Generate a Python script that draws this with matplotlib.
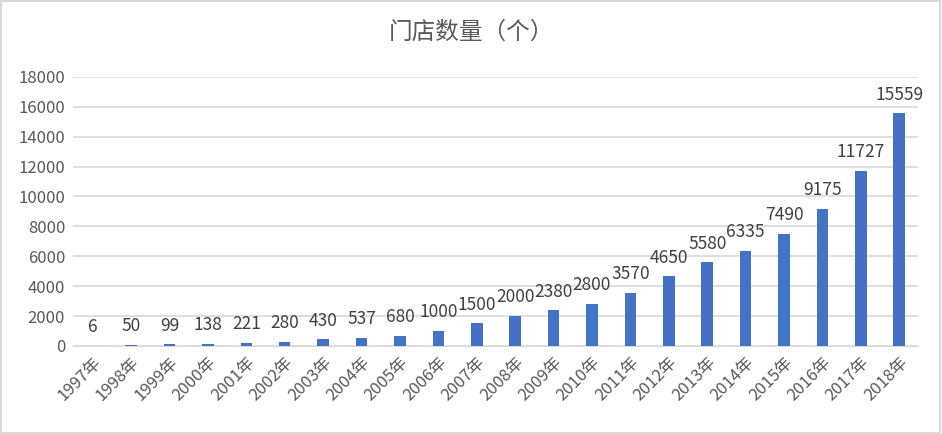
import matplotlib
matplotlib.use("Agg")
import matplotlib.pyplot as plt

years = [f"{y}年" for y in range(1997, 2019)]
stores = [6, 50, 99, 138, 221, 280, 430, 537, 680, 1000, 1500, 2000, 2380, 2800, 3570, 4650, 5580, 6335, 7490, 9175, 11727, 15559]
yticks = list(range(0, 18001, 2000))

plt.rcParams["font.family"] = ["Noto Sans CJK SC"]
fig = plt.figure(figsize=(9.42, 4.34), dpi=100)
ax = fig.add_axes([0.078, 0.203, 0.897, 0.62])
x = range(len(years))
ax.bar(x, stores, width=0.3, color="#4472C4", zorder=3)
for i, v in zip(x, stores):
    ax.annotate(str(v), (i, v), xytext=(0, 7), textcoords="offset points",
                ha="center", va="bottom", fontsize=12.5, color="#404040")
ax.set_ylim(0, 18000)
ax.set_xlim(-0.5, len(years) - 0.5)
ax.set_yticks(yticks)
ax.set_yticklabels([str(t) for t in yticks], fontsize=12, color="#595959")
ax.set_xticks(list(x))
ax.set_xticklabels(years, rotation=45, ha="right", rotation_mode="anchor", fontsize=12, color="#595959")
ax.grid(axis="y", color="#D9D9D9", linewidth=1.2, zorder=0)
for s in ["top", "right", "left"]:
    ax.spines[s].set_visible(False)
ax.spines["bottom"].set_color("#D9D9D9")
ax.tick_params(length=0, pad=6)
fig.text(0.5, 0.925, "门店数量（个）", ha="center", va="center", fontsize=17, color="#595959")
fig.patches.append(plt.Rectangle((0.001, 0.002), 0.997, 0.995, transform=fig.transFigure,
                                 fill=False, edgecolor="#D9D9D9", linewidth=1.5))
fig.savefig("out.png", dpi=100)
